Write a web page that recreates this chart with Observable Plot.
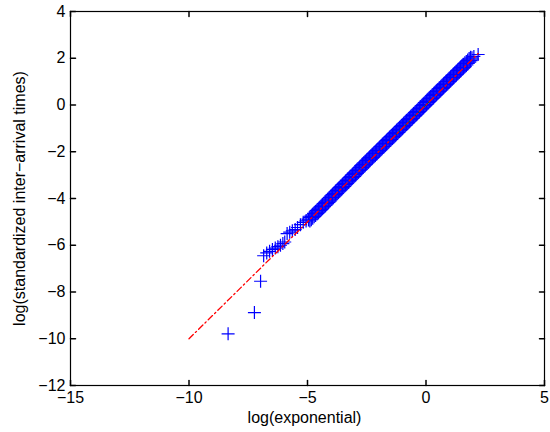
<!DOCTYPE html>
<html>
<head>
<meta charset="utf-8">
<script src="https://cdn.jsdelivr.net/npm/d3@7"></script>
<script src="https://cdn.jsdelivr.net/npm/@observablehq/plot@0.6"></script>
<style>
  body { margin: 0; background: #fff; }
  #chart svg { display: block; }
</style>
</head>
<body>
<div id="chart"></div>
<script>
// ---- data ----
const xTicks = [-15, -10, -5, 0, 5];
const yTicks = [-12, -10, -8, -6, -4, -2, 0, 2, 4];
const xLabel = "log(exponential)";
const yLabel = "log(standardized inter\u2212arrival times)";

// sparse lower tail and upper end (x = log exponential quantile, y = log data)
const tailX = [-8.35, -7.24, -6.98, -6.85, -6.72, -6.60, -6.48, -6.36, -6.25, -6.14, -6.04, -5.96,
               -5.86, -5.75, -5.64, -5.52, -5.42, -5.30, -5.18, -5.06, -4.96, 1.94, 2.02, 2.20];
const tailY = [-9.79, -8.88, -7.54, -6.45, -6.33, -6.26, -6.18, -6.12, -6.06, -6.00, -5.93, -5.86,
               -5.50, -5.44, -5.38, -5.33, -5.24, -5.12, -5.02, -4.96, -4.92, 2.02, 2.08, 2.16];

// dense main band
const bandX = [-4.90,-4.84,-4.78,-4.72,-4.66,-4.60,-4.54,-4.48,-4.42,-4.36,-4.30,-4.24,-4.18,-4.12,-4.06,
  -4.00,-3.94,-3.88,-3.82,-3.76,-3.70,-3.64,-3.58,-3.52,-3.46,-3.40,-3.34,-3.28,-3.22,-3.16,-3.10,-3.04,
  -2.98,-2.92,-2.86,-2.80,-2.74,-2.68,-2.62,-2.56,-2.50,-2.44,-2.38,-2.32,-2.26,-2.20,-2.14,-2.08,-2.02,
  -1.96,-1.90,-1.84,-1.78,-1.72,-1.66,-1.60,-1.54,-1.48,-1.42,-1.36,-1.30,-1.24,-1.18,-1.12,-1.06,
  -1.00,-0.94,-0.88,-0.82,-0.76,-0.70,-0.64,-0.58,-0.52,-0.46,-0.40,-0.34,-0.28,-0.22,-0.16,-0.10,-0.04,
  0.02,0.08,0.14,0.20,0.26,0.32,0.38,0.44,0.50,0.56,0.62,0.68,0.74,0.80,0.86,0.92,0.98,
  1.04,1.10,1.16,1.22,1.28,1.34,1.40,1.46,1.52,1.58,1.64,1.70,1.76,1.82,1.88];
const bandY = [-4.88,-4.82,-4.76,-4.70,-4.64,-4.58,-4.52,-4.46,-4.40,-4.34,-4.28,-4.22,-4.16,-4.10,-4.03,
  -3.96,-3.90,-3.84,-3.78,-3.72,-3.66,-3.60,-3.54,-3.48,-3.41,-3.35,-3.29,-3.23,-3.17,-3.11,-3.05,-2.98,
  -2.92,-2.86,-2.80,-2.74,-2.68,-2.61,-2.55,-2.49,-2.43,-2.37,-2.31,-2.25,-2.19,-2.13,-2.07,-2.01,-1.95,
  -1.89,-1.83,-1.77,-1.71,-1.65,-1.59,-1.53,-1.47,-1.41,-1.35,-1.29,-1.23,-1.17,-1.11,-1.05,-0.99,
  -0.93,-0.87,-0.81,-0.75,-0.69,-0.63,-0.57,-0.51,-0.45,-0.39,-0.33,-0.27,-0.21,-0.15,-0.09,-0.03,0.03,
  0.10,0.16,0.22,0.28,0.34,0.40,0.46,0.52,0.58,0.64,0.70,0.76,0.82,0.88,0.94,1.00,1.06,
  1.12,1.18,1.24,1.30,1.36,1.42,1.48,1.54,1.60,1.66,1.72,1.78,1.84,1.90,1.96];

// reference lines
const refX = [-10, 2.2];
const refY = [-10, 2.2];
const quartX = [-1.25, 0.33];
const quartY = [-1.25, 0.33];

// ---- build tables ----
const tail = tailX.map((x, i) => ({x, y: tailY[i]}));
const band = bandX.map((x, i) => ({x, y: bandY[i]}));
const refLine = refX.map((x, i) => ({x, y: refY[i]}));
const quartLine = quartX.map((x, i) => ({x, y: quartY[i]}));

const plusSymbol = {
  draw(ctx, size) {
    const a = Math.sqrt(size / Math.PI);
    ctx.moveTo(-a, 0); ctx.lineTo(a, 0);
    ctx.moveTo(0, -a); ctx.lineTo(0, a);
  }
};
const tickShape = {
  draw(ctx, l) { ctx.moveTo(0, 0); ctx.lineTo(0, -l); }
};
const fmt = d => (d < 0 ? "\u2212" + (-d) : String(d));

const chart = Plot.plot({
  width: 550,
  height: 432,
  marginLeft: 70,
  marginRight: 6,
  marginTop: 11,
  marginBottom: 47,
  style: {fontFamily: "'Liberation Sans', Arial, Helvetica, sans-serif", fontSize: "16px", background: "#fff", color: "#000"},
  x: {domain: [-15, 5], axis: null},
  y: {domain: [-12, 4], axis: null},
  marks: [
    Plot.dot(band, {x: "x", y: "y", symbol: plusSymbol, r: 8.5, fill: "none", stroke: "#0000ff", strokeWidth: 1.3}),
    Plot.dot(tail, {x: "x", y: "y", symbol: plusSymbol, r: 6.5, fill: "none", stroke: "#0000ff", strokeWidth: 1.2}),
    Plot.line(quartLine, {x: "x", y: "y", stroke: "#008000", strokeWidth: 1}),
    Plot.line(refLine, {x: "x", y: "y", stroke: "#ff0000", strokeWidth: 1.3, strokeDasharray: "6,3,1.5,3"}),
    Plot.frame({stroke: "#000", strokeWidth: 1.2}),
    // inward ticks on all four sides
    Plot.vector(xTicks, {x: d => d, frameAnchor: "bottom", length: 5, rotate: 0, anchor: "start", shape: tickShape, stroke: "#000"}),
    Plot.vector(xTicks, {x: d => d, frameAnchor: "top", length: 5, rotate: 180, anchor: "start", shape: tickShape, stroke: "#000"}),
    Plot.vector(yTicks, {y: d => d, frameAnchor: "left", length: 5, rotate: 90, anchor: "start", shape: tickShape, stroke: "#000"}),
    Plot.vector(yTicks, {y: d => d, frameAnchor: "right", length: 5, rotate: -90, anchor: "start", shape: tickShape, stroke: "#000"}),
    Plot.axisX(xTicks, {anchor: "bottom", tickSize: 0, tickPadding: 6, tickFormat: fmt, label: null, fontSize: 16}),
    Plot.axisY(yTicks, {anchor: "left", tickSize: 0, tickPadding: 5, tickFormat: fmt, label: null, fontSize: 16}),
    Plot.text([xLabel], {frameAnchor: "bottom", dy: 32, dx: -3, text: d => d, textAnchor: "middle", lineAnchor: "middle", fontSize: 16}),
    Plot.text([yLabel], {frameAnchor: "left", dx: -51, rotate: -90, text: d => d, textAnchor: "middle", lineAnchor: "middle", fontSize: 16})
  ]
});
document.getElementById("chart").appendChild(chart);
</script>
</body>
</html>
